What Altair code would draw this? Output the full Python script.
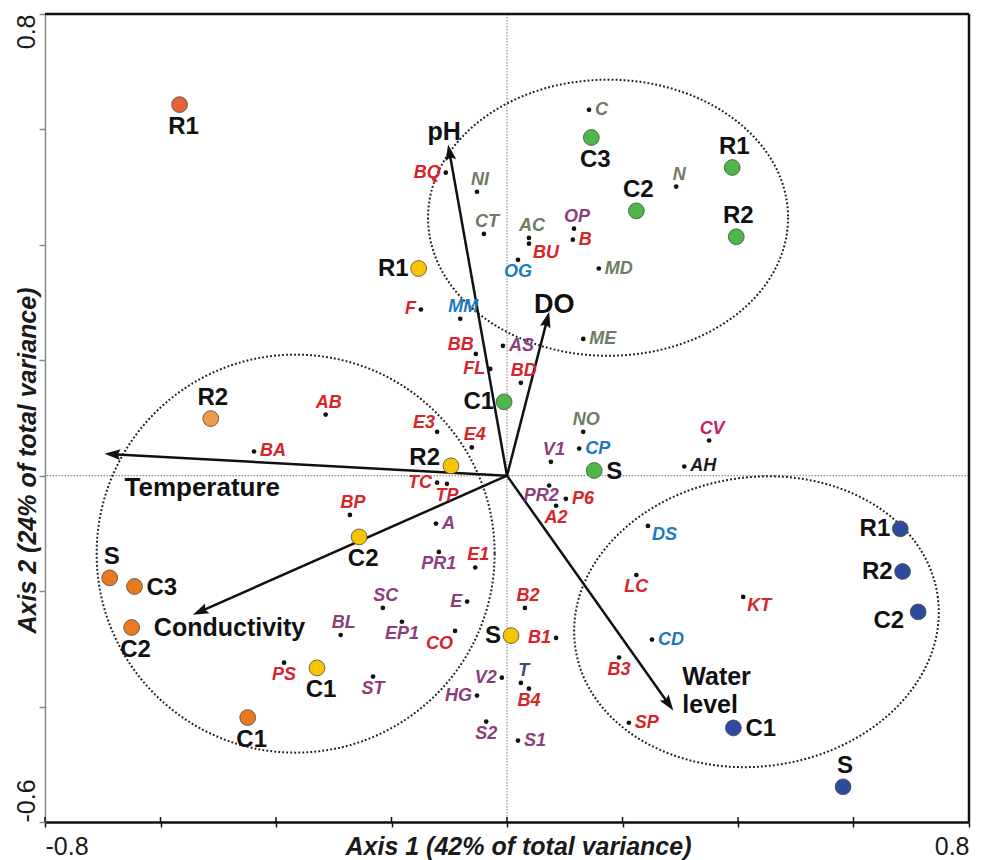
import altair as alt
import pandas as pd

# ---------------- data (ordination scores) ----------------
sp_names = ["C", "NI", "CT", "BQ", "AC", "BU", "OP", "B", "OG", "MD", "N", "F", "MM", "ME", "BB", "AS", "FL", "BD",
            "AB", "BA", "E3", "E4", "TC", "TP", "BP", "A", "PR1", "E1", "SC", "BL", "EP1", "CO", "E", "PS", "ST",
            "B2", "B1", "V2", "T", "B4", "HG", "S2", "S1", "NO", "CP", "V1", "CV", "AH", "PR2", "P6", "A2", "DS",
            "LC", "KT", "CD", "B3", "SP"]
sp_x = [0.142, -0.052, -0.040, -0.106, 0.038, 0.038, 0.116, 0.114, 0.019, 0.159, 0.293, -0.149, -0.081, 0.132, -0.054, -0.007, -0.029, 0.024,
        -0.314, -0.438, -0.121, -0.061, -0.121, -0.104, -0.272, -0.123, -0.118, -0.055, -0.215, -0.288, -0.182, -0.090, -0.069, -0.386, -0.232,
        0.031, 0.085, -0.009, 0.024, 0.038, -0.052, -0.036, 0.019, 0.132, 0.125, 0.076, 0.350, 0.307, 0.073, 0.102, 0.085, 0.244,
        0.224, 0.409, 0.251, 0.194, 0.211]
sp_y = [0.634, 0.492, 0.419, 0.525, 0.412, 0.402, 0.428, 0.409, 0.374, 0.359, 0.501, 0.288, 0.272, 0.237, 0.211, 0.225, 0.185, 0.161,
        0.106, 0.042, 0.076, 0.049, -0.012, -0.014, -0.068, -0.083, -0.132, -0.159, -0.229, -0.276, -0.253, -0.269, -0.218, -0.324, -0.348,
        -0.229, -0.281, -0.350, -0.359, -0.369, -0.381, -0.426, -0.459, 0.076, 0.047, 0.024, 0.061, 0.016, -0.017, -0.040, -0.052, -0.087,
        -0.172, -0.210, -0.284, -0.315, -0.428]
sp_group = ["olive", "olive", "olive", "red", "olive", "red", "purple", "red", "blue", "olive", "olive", "red", "blue", "olive", "red", "purple", "red", "red",
            "red", "red", "red", "red", "red", "red", "red", "purple", "purple", "red", "purple", "purple", "purple", "red", "purple", "red", "purple",
            "red", "red", "purple", "slate", "red", "purple", "purple", "purple", "olive", "blue", "purple", "magenta", "black", "purple", "red", "red", "blue",
            "red", "red", "blue", "red", "red"]

site_names = ["R1", "R2", "S", "C3", "C2", "C1",
              "R1", "R2", "C2", "C1", "S",
              "C3", "R1", "C2", "R2", "C1", "S",
              "R1", "R2", "C2", "C1", "S"]
site_x = [-0.567, -0.513, -0.688, -0.645, -0.650, -0.449,
          -0.153, -0.097, -0.256, -0.329, 0.007,
          0.146, 0.390, 0.224, 0.397, -0.005, 0.151,
          0.681, 0.685, 0.712, 0.392, 0.582]
site_y = [0.643, 0.099, -0.177, -0.192, -0.263, -0.419,
          0.359, 0.017, -0.106, -0.333, -0.277,
          0.586, 0.534, 0.459, 0.414, 0.128, 0.009,
          -0.092, -0.166, -0.236, -0.437, -0.539]
site_group = ["orange_a", "orange_b", "orange", "orange", "orange", "orange",
              "yellow", "yellow", "yellow", "yellow", "yellow",
              "green", "green", "green", "green", "green", "green",
              "blue", "blue", "blue", "blue", "blue"]

arrow_names = ["pH", "DO", "Temperature", "Conductivity", "Water level"]
arrow_x = [-0.102, 0.073, -0.697, -0.544, 0.288]
arrow_y = [0.574, 0.284, 0.038, -0.241, -0.407]

ellipse_x = [0.175, -0.366, 0.432]
ellipse_y = [0.447, -0.135, -0.253]

x_ticks = [-0.8, -0.6, -0.4, -0.2, 0.0, 0.2, 0.4, 0.6, 0.8]
y_ticks = [-0.6, -0.4, -0.2, 0.0, 0.2, 0.4, 0.6, 0.8]
X_TITLE = "Axis 1 (42% of total variance)"
Y_TITLE = "Axis 2 (24% of total variance)"

# ---------------- styles ----------------
FONT = "Liberation Sans"
W, H = 924, 808
SP_COLORS = {"red": "#D8232A", "purple": "#8C3D7E", "olive": "#6E7C62", "blue": "#1B79C0",
             "magenta": "#C81A70", "black": "#1A1A1A", "slate": "#3D4A70"}
SITE_COLORS = {"orange_a": "#E4633A", "orange_b": "#EF9A4B", "orange": "#E97A1F",
               "yellow": "#F6C500", "green": "#4DB749", "blue": "#2D4A9C"}
sp_place = ["r", "t", "t", "l", "t", "br", "t", "r", "b", "r", "t", "l", "t", "r", "tl", "r", "l", "t",
            "t", "r", "tl", "t", "l", "b", "t", "r", "b", "t", "t", "t", "b", "bl", "l", "b", "b",
            "t", "l", "l", "t", "b", "l", "b", "r", "t", "r", "t", "t", "r", "bw", "r", "b", "br",
            "b", "br", "r", "b", "r"]
SP_PLACE = {"r": (6, 0, "left"), "l": (-5, 0, "right"), "t": (3, -12, "center"), "b": (0, 12, "center"),
            "br": (4, 9, "left"), "tl": (-2, -9, "right"), "bl": (-2, 13, "right"), "bw": (-8, 10, "center")}
site_place = ["b", "t", "t", "r", "b", "b",
              "l", "tl", "b", "b", "l",
              "b", "t", "t", "t", "l", "r",
              "l", "l", "bl", "r", "t"]
SITE_PLACE = {"b": (4, 22, "center"), "t": (2, -21, "center"), "r": (12, 1, "left"),
              "l": (-10, 0, "right"), "tl": (-11, -8, "right"), "bl": (-14, 9, "right")}
ARROW_LABEL = {"pH": (-4, -4, "center", "alphabetic", 25),
               "DO": (5, 1, "center", "alphabetic", 27),
               "Temperature": (20, 42, "left", "alphabetic", 26),
               "Conductivity": (-39, 21, "left", "alphabetic", 25),
               "Water level": (9, -46, "left", "top", 25)}
ELLIPSE_STYLE = [(180, 0.767, 0), (199, 1.0, 0), (183, 0.79, 352)]  # (x radius px, y/x ratio, angle)

# ---------------- tables ----------------
sp = pd.DataFrame({"name": sp_names, "x": sp_x, "y": sp_y, "place": sp_place})
sp["col"] = [SP_COLORS[g] for g in sp_group]
sites = pd.DataFrame({"name": site_names, "x": site_x, "y": site_y, "place": site_place})
sites["col"] = [SITE_COLORS[g] for g in site_group]
arrows = pd.DataFrame({"name": arrow_names, "x": arrow_x, "y": arrow_y})
zero = pd.DataFrame({"x": [0.0], "y": [0.0]})
frame = pd.DataFrame({"x": [0.8], "y": [0.8]})
xtick_df = pd.DataFrame({"x": x_ticks})

xs = alt.Scale(domain=[-0.8, 0.8], nice=False, zero=False)
ys = alt.Scale(domain=[-0.6, 0.8], nice=False, zero=False)

xaxis = alt.Axis(
    values=x_ticks,
    labelExpr="datum.value < -0.79 ? '-0.8' : (datum.value > 0.79 ? '0.8' : '')",
    labelFlush=True, labelOverlap=False, labelFont=FONT, labelFontSize=25, labelColor="#1a1a1a",
    labelBaseline="middle", labelPadding=19,
    tickSize=5, tickColor="#111111", tickWidth=1.5,
    domainColor="#111111", domainWidth=2.5, grid=False,
    titleFont=FONT, titleFontSize=25, titleFontWeight="bold", titleFontStyle="italic", titleColor="#1a1a1a",
    titleX=473, titleY=24, titleAlign="center", titleBaseline="middle")
yaxis = alt.Axis(
    values=y_ticks,
    labelExpr="datum.value > 0.79 ? '0.8' : (datum.value < -0.59 ? '-0.6' : '')",
    labelAngle=270, labelFlush=False, labelOverlap=False,
    labelAlign={"condition": {"test": "datum.value > 0", "value": "right"}, "value": "left"},
    labelBaseline="middle", labelPadding=13,
    labelFont=FONT, labelFontSize=25, labelColor="#1a1a1a",
    tickSize=6, tickColor="#888888", tickWidth=1.5,
    domainColor="#888888", domainWidth=1.5, grid=False,
    titleFont=FONT, titleFontSize=25, titleFontWeight="bold", titleFontStyle="italic", titleColor="#1a1a1a",
    titleAngle=270, titleX=-18, titleY=446, titleAlign="center", titleBaseline="middle")


def X(f):
    return alt.X(f, type="quantitative", scale=xs, axis=xaxis, title=X_TITLE)


def Y(f):
    return alt.Y(f, type="quantitative", scale=ys, axis=yaxis, title=Y_TITLE)


def ellipse_path(r):
    k = 0.5523
    return (f"M1,0C1,{k*r:.4f} {k:.4f},{r:.4f} 0,{r:.4f}"
            f"C{-k:.4f},{r:.4f} -1,{k*r:.4f} -1,0"
            f"C-1,{-k*r:.4f} {-k:.4f},{-r:.4f} 0,{-r:.4f}"
            f"C{k:.4f},{-r:.4f} 1,{-k*r:.4f} 1,0Z")


layers = []

# zero lines
layers.append(alt.Chart(zero).mark_rule(color="#777777", strokeWidth=1, strokeDash=[1.5, 1.5]).encode(y=Y("y")))
layers.append(alt.Chart(zero).mark_rule(color="#777777", strokeWidth=1, strokeDash=[1.5, 1.5]).encode(x=X("x")))
# top & right frame
layers.append(alt.Chart(frame).mark_rule(color="#111111", strokeWidth=2.5).encode(y=Y("y")))
layers.append(alt.Chart(frame).mark_rule(color="#111111", strokeWidth=2.5).encode(x=X("x")))
# inner half of the x ticks (they cross the axis line)
layers.append(alt.Chart(xtick_df).mark_rule(color="#111111", strokeWidth=1.5)
              .encode(x=X("x"), y=alt.value(H), y2=alt.value(H - 5)))

# dotted ellipses
for i, (rx, ratio, ang) in enumerate(ELLIPSE_STYLE):
    edf = pd.DataFrame({"x": [ellipse_x[i]], "y": [ellipse_y[i]]})
    layers.append(
        alt.Chart(edf).mark_point(shape=ellipse_path(ratio), size=(2 * rx) ** 2, filled=False,
                                  stroke="#1a1a1a", strokeWidth=2, strokeDash=[1.8, 2.2],
                                  opacity=1, angle=ang)
        .encode(x=X("x"), y=Y("y")))

# arrows
layers.append(
    alt.Chart(arrows).transform_calculate(
        ln="sqrt(datum.x*datum.x + datum.y*datum.y)",
        x0="0", y0="0",
        ex="datum.x * (1 - 0.022 / datum.ln)",
        ey="datum.y * (1 - 0.022 / datum.ln)",
    ).mark_rule(color="#111111", strokeWidth=2.5)
    .encode(x=X("x0:Q"), y=Y("y0:Q"), x2="ex:Q", y2="ey:Q"))
layers.append(
    alt.Chart(arrows).transform_calculate(
        ang="(atan2(datum.x, datum.y) * 180 / PI + 360) % 360"
    ).mark_point(shape="M0,0L-0.34,1L0,0.84L0.34,1Z", size=1000, filled=True, fill="#111111",
                 strokeWidth=0, opacity=1)
    .encode(x=X("x"), y=Y("y"), angle=alt.Angle("ang:Q", scale=None)))
for name, (dx, dy, al, bl, fs) in ARROW_LABEL.items():
    kw = dict(dx=dx, dy=dy, align=al, baseline=bl, font=FONT, fontSize=fs, fontWeight="bold", color="#111111")
    if name == "Water level":
        kw.update(lineBreak=" ", lineHeight=28)
    layers.append(
        alt.Chart(arrows).transform_filter(alt.datum.name == name)
        .mark_text(**kw).encode(x=X("x"), y=Y("y"), text="name:N"))

# species dots and labels
layers.append(alt.Chart(sp).mark_circle(size=22, color="#111111", opacity=1).encode(x=X("x"), y=Y("y")))
for code, (dx, dy, al) in SP_PLACE.items():
    layers.append(
        alt.Chart(sp).transform_filter(alt.datum.place == code)
        .mark_text(dx=dx, dy=dy, align=al, baseline="middle", font=FONT, fontSize=18,
                   fontWeight="bold", fontStyle="italic")
        .encode(x=X("x"), y=Y("y"), text="name:N", color=alt.Color("col:N", scale=None)))

# sites
layers.append(
    alt.Chart(sites).mark_circle(size=250, stroke="#4a4a4a", strokeWidth=0.8, opacity=1)
    .encode(x=X("x"), y=Y("y"), fill=alt.Fill("col:N", scale=None)))
for code, (dx, dy, al) in SITE_PLACE.items():
    layers.append(
        alt.Chart(sites).transform_filter(alt.datum.place == code)
        .mark_text(dx=dx, dy=dy, align=al, baseline="middle", font=FONT, fontSize=24,
                   fontWeight="bold", color="#111111")
        .encode(x=X("x"), y=Y("y"), text="name:N"))

chart = alt.layer(*layers).properties(
    width=W, height=H,
    autosize=alt.AutoSizeParams(type="none"),
    padding={"left": 37, "top": 6, "right": 6, "bottom": 40},
    background="white",
).configure_view(stroke=None)

chart.save("out.html", embed_options={"renderer": "svg", "actions": False})
